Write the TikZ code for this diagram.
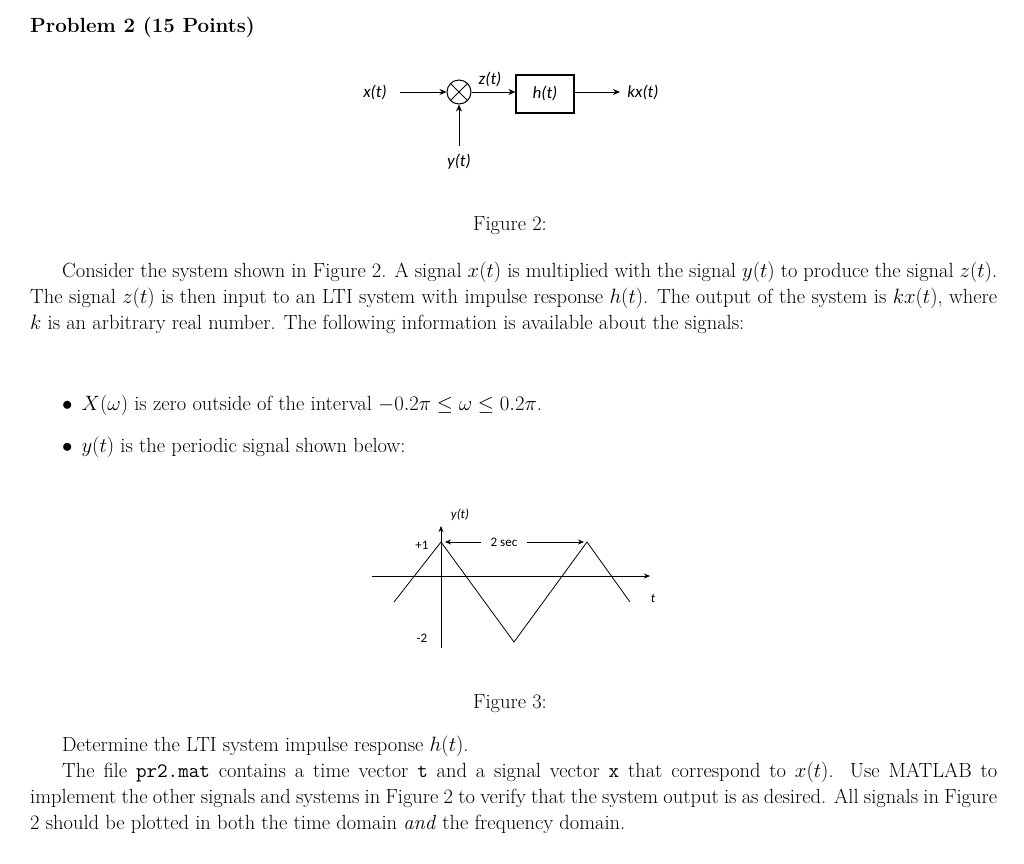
\documentclass[tikz,border=0pt]{standalone}
\usepackage{fontspec}
\usepackage{amsmath,amssymb}
\newfontfamily\carl{Carlito}
\usetikzlibrary{arrows.meta}
\begin{document}
\begin{tikzpicture}[x=1pt,y=-1pt,
  lbl/.style={font=\carl\itshape\fontsize{17}{17}\selectfont,inner sep=0},
  small/.style={font=\carl\fontsize{13}{13}\selectfont,inner sep=0},
  arr/.style={-{Stealth[length=7pt,width=6pt]},line width=1pt},
  txt/.style={font=\fontsize{20.5}{26}\selectfont,inner sep=0},
  body/.style={txt,anchor=north west,align=justify}]
\useasboundingbox (0,0) rectangle (1024,863);
\node[anchor=base west,inner sep=0,font=\bfseries\fontsize{20.5}{24}\selectfont] (title) at (30,32) {Problem 2 (15 Points)};
% Figure 2
\node[lbl] (x) at (375,92) {x(t)};
\node[draw,circle,line width=1pt,minimum size=24pt,inner sep=0] (m) at (459,92) {};
\draw[line width=1pt] (m.north west)--(m.south east) (m.north east)--(m.south west);
\node[draw,line width=1.2pt,minimum width=58pt,minimum height=38pt] (h) at (545,94) {};
\node[lbl] (hl) at (545,93) {h(t)};
\node[lbl] (kx) at (643,92) {kx(t)};
\node[lbl] (y) at (459,162) {y(t)};
\node[lbl] (z) at (490,79) {z(t)};
\coordinate (xs) at (400,92);
\coordinate (ys) at (459,146);
\coordinate (ke) at (620,92);
\draw[arr] (xs) -- (m.west);
\draw[arr] (ys) -- (m.south);
\draw[arr] (m.east) -- (h.west |- m.east);
\draw[arr] (h.east |- m.east) -- (ke);
\node[txt] (f2) at (510,226) {Figure 2:};
\node[body,text width=967pt] (p1) at (30,262) {\parindent=32pt\indent Consider the system shown in Figure 2. A signal $x(t)$ is multiplied with the signal $y(t)$ to produce the signal $z(t)$. The signal $z(t)$ is then input to an LTI system with impulse response $h(t)$. The output of the system is $kx(t)$, where $k$ is an arbitrary real number. The following information is available about the signals:};
\node[anchor=base west,txt] (b1) at (62,410) {$\bullet$\hspace{9pt}$X(\omega)$ is zero outside of the interval $-0.2\pi\le\omega\le0.2\pi$.};
\node[anchor=base west,txt] (b2) at (62,452) {$\bullet$\hspace{9pt}$y(t)$ is the periodic signal shown below:};
% Figure 3
\draw[line width=0.8pt,-{Stealth[length=6pt,width=5pt]}] (441,648) -- (441,526);
\draw[line width=0.8pt,-{Stealth[length=6pt,width=5pt]}] (372,576) -- (650,576);
\draw[line width=0.8pt] (394,602) -- (441,542) -- (514,642) -- (587,542) -- (630,602);
\node[small,font=\carl\itshape\fontsize{13}{13}\selectfont] (yl) at (460,515) {y(t)};
\node[small] (p1l) at (422,545) {+1};
\node[small] (m2l) at (422,638) {-2};
\node[small,font=\carl\itshape\fontsize{13}{13}\selectfont] (tl) at (653,598) {t};
\node[small] (ts) at (504,542) {2 sec};
\draw[-{Stealth[length=6pt,width=5pt]},line width=0.8pt] ([xshift=-10pt]ts.west) -- (445,542);
\draw[-{Stealth[length=6pt,width=5pt]},line width=0.8pt] ([xshift=10pt]ts.east) -- (584,542);
\node[txt] (f3) at (510,704) {Figure 3:};
\node[body,text width=967pt] (p2) at (30,736) {\parindent=32pt\indent Determine the LTI system impulse response $h(t)$.\par\indent The file \texttt{pr2.mat} contains a time vector \texttt{t} and a signal vector \texttt{x} that correspond to $x(t)$. Use MATLAB to implement the other signals and systems in Figure 2 to verify that the system output is as desired. All signals in Figure 2 should be plotted in both the time domain \emph{and} the frequency domain.};
\end{tikzpicture}
\end{document}
